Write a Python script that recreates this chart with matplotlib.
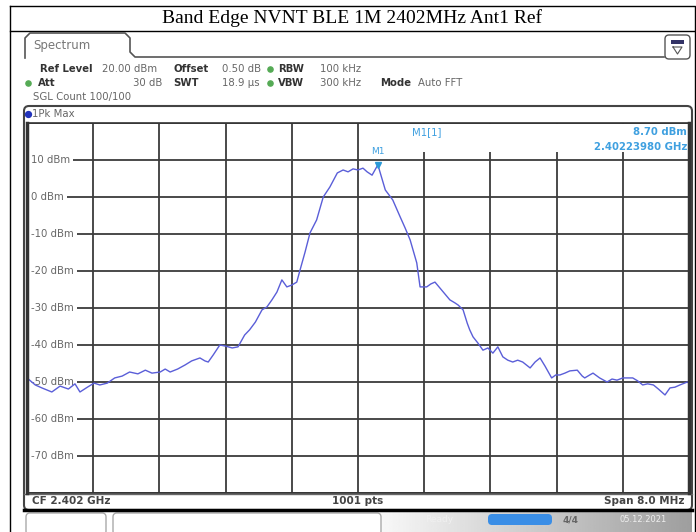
import numpy as np
import matplotlib.pyplot as plt
from matplotlib.patches import FancyBboxPatch, Rectangle

# Trace
freq_ghz = [2.39800, 2.39810, 2.39818, 2.39830, 2.39840, 2.39850, 2.39858, 2.39864,
            2.39873, 2.39881, 2.39888, 2.39897, 2.39906, 2.39915, 2.39924, 2.39934,
            2.39943, 2.39951, 2.39961, 2.39967, 2.39973, 2.39982, 2.39991, 2.39999,
            2.40009, 2.40015, 2.40019, 2.40025, 2.40033, 2.40040, 2.40048, 2.40055,
            2.40063, 2.40069, 2.40076, 2.40084, 2.40090, 2.40096, 2.40102, 2.40108,
            2.40114, 2.40120, 2.40126, 2.40130, 2.40136, 2.40142, 2.40150, 2.40158,
            2.40166, 2.40175, 2.40182, 2.40188, 2.40194, 2.40200, 2.40206, 2.40211,
            2.40217, 2.40224, 2.40233, 2.40242, 2.40251, 2.40257, 2.40263, 2.40271,
            2.40275, 2.40283, 2.40288, 2.40293, 2.40299, 2.40305, 2.40311, 2.40317,
            2.40321, 2.40327, 2.40332, 2.40335, 2.40339, 2.40345, 2.40351, 2.40357,
            2.40363, 2.40369, 2.40375, 2.40381, 2.40387, 2.40393, 2.40399, 2.40408,
            2.40414, 2.40420, 2.40426, 2.40434, 2.40439, 2.40444, 2.40450, 2.40456,
            2.40465, 2.40471, 2.40474, 2.40480, 2.40484, 2.40492, 2.40501, 2.40507,
            2.40513, 2.40520, 2.40526, 2.40532, 2.40538, 2.40544, 2.40550, 2.40557,
            2.40563, 2.40571, 2.40577, 2.40583, 2.40589, 2.40598, 2.40600]
level_dbm = [-48.9, -50.8, -51.6, -52.7, -51.1, -51.9, -50.5, -52.7,
             -51.4, -50.3, -50.8, -50.3, -48.9, -48.4, -47.3, -47.8,
             -46.8, -47.6, -47.3, -46.5, -47.3, -46.5, -45.4, -44.3,
             -43.5, -44.3, -44.6, -42.7, -40.0, -40.3, -40.8, -40.5,
             -37.3, -35.9, -33.8, -30.5, -29.7, -27.8, -25.7, -22.4,
             -24.3, -23.8, -23.0, -19.7, -14.9, -9.7, -6.2, 0.0,
             2.7, 6.5, 7.3, 6.8, 7.6, 7.3, 7.8, 6.8,
             5.9, 8.7, 1.9, -0.8, -5.4, -8.4, -11.6, -17.8,
             -24.3, -24.3, -23.5, -23.0, -24.6, -26.2, -27.8, -28.6,
             -29.2, -30.5, -34.1, -35.9, -37.8, -39.5, -41.4, -40.8,
             -42.2, -40.5, -43.2, -44.1, -44.6, -44.1, -44.6, -46.2,
             -44.6, -43.5, -45.7, -48.9, -48.1, -48.1, -47.6, -47.0,
             -46.8, -48.4, -48.9, -48.1, -47.6, -48.9, -50.0, -49.2,
             -49.5, -48.9, -48.9, -48.9, -49.7, -50.8, -50.5, -50.8,
             -51.9, -53.5, -51.6, -51.4, -50.8, -50.0, -50.3]

marker_freq = 2.40223980
marker_level = 8.70
y_ticks = [10, 0, -10, -20, -30, -40, -50, -60, -70]
title = 'Band Edge NVNT BLE 1M 2402MHz Ant1 Ref'

W, H = 696, 532
fig = plt.figure(figsize=(W / 100, H / 100), dpi=100)
fig.patch.set_facecolor('white')

# pixel-coordinate layer for the instrument frame
bg = fig.add_axes([0, 0, 1, 1], zorder=0)
bg.set_xlim(0, W)
bg.set_ylim(H, 0)
bg.axis('off')

# title box
bg.plot([10, 695, 695], [6, 6, H], color='black', lw=1)
bg.plot([10, 10], [6, H], color='black', lw=1)
bg.plot([10, 695], [31, 31], color='black', lw=1)
fig.text(352 / W, 1 - 18 / H, title, ha='center', va='center',
         fontsize=14, family='Liberation Serif')

# Spectrum tab and top-right icon
bg.plot([25, 25, 30, 125, 130, 130, 135, 664], [58, 38, 33, 33, 38, 52, 57, 57],
        color='#555555', lw=1.2)
bg.text(33, 46, 'Spectrum', fontsize=8.5, color='#777777', va='center')
bg.add_patch(FancyBboxPatch((665, 35), 25, 24, boxstyle='round,pad=0,rounding_size=4',
                            fc='white', ec='#555555', lw=1))
bg.add_patch(Rectangle((671, 40), 13, 4, fc='#333366', ec='none'))
bg.plot([673, 682, 677.5, 673], [47, 47, 54, 47], color='#555555', lw=0.8)

# setting lines
hdr = dict(fontsize=7.3, va='center')
bg.text(40, 69, 'Ref Level', fontweight='bold', color='#333333', **hdr)
bg.text(102, 69, '20.00 dBm', color='#666666', **hdr)
bg.text(173, 69, 'Offset', fontweight='bold', color='#333333', **hdr)
bg.text(222, 69, '0.50 dB', color='#666666', **hdr)
bg.text(278, 69, 'RBW', fontweight='bold', color='#333333', **hdr)
bg.text(320, 69, '100 kHz', color='#666666', **hdr)
bg.text(38, 83, 'Att', fontweight='bold', color='#333333', **hdr)
bg.text(162, 83, '30 dB', color='#666666', ha='right', fontsize=7.3, va='center')
bg.text(173, 83, 'SWT', fontweight='bold', color='#333333', **hdr)
bg.text(222, 83, '18.9 µs', color='#666666', **hdr)
bg.text(278, 83, 'VBW', fontweight='bold', color='#333333', **hdr)
bg.text(320, 83, '300 kHz', color='#666666', **hdr)
bg.text(380, 83, 'Mode', fontweight='bold', color='#333333', **hdr)
bg.text(418, 83, 'Auto FFT', color='#666666', **hdr)
bg.text(33, 97, 'SGL Count 100/100', color='#666666', **hdr)
bg.scatter([270, 270, 28], [69, 83, 83], s=14, color='#55aa55', zorder=3)

# diagram frame
bg.add_patch(FancyBboxPatch((24, 106), 668, 404, boxstyle='round,pad=0,rounding_size=5',
                            fc='white', ec='#444444', lw=1.5))
bg.scatter([28], [114], s=18, color='#2233bb', zorder=3)
bg.text(32, 114, '1Pk Max', color='#666666', **hdr)

# status line under the grid
bg.plot([24, 692], [494, 494], color='#666666', lw=1)
st = dict(fontsize=7.5, fontweight='bold', color='#444444', va='center')
bg.text(32, 501.5, 'CF 2.402 GHz', **st)
bg.text(358, 501.5, '1001 pts', ha='center', **st)
bg.text(685, 501.5, 'Span 8.0 MHz', ha='right', **st)
bg.plot([24, 692], [510, 510], color='black', lw=2.5)

# bottom bar
grad = np.linspace(0.97, 0.62, 200)[None, :]
bg.imshow(grad, cmap='gray', vmin=0, vmax=1, aspect='auto',
          extent=(380, 692, 532, 512), zorder=0)
bg.add_patch(FancyBboxPatch((26, 513), 80, 22, boxstyle='round,pad=0,rounding_size=4',
                            fc='white', ec='#aaaaaa', lw=1))
bg.add_patch(FancyBboxPatch((113, 513), 268, 22, boxstyle='round,pad=0,rounding_size=4',
                            fc='white', ec='#aaaaaa', lw=1))
bg.add_patch(FancyBboxPatch((488, 514), 64, 11, boxstyle='round,pad=0,rounding_size=4',
                            fc='#3a8ee6', ec='none'))
bg.text(563, 520, '4/4', fontsize=6.5, color='#666666', va='center', fontweight='bold')
bg.text(425, 520, 'Ready', fontsize=6.5, color='#f0f0f0', va='center')
bg.text(620, 519, '05.12.2021', fontsize=6, color='#eeeeee', va='center')

# measurement grid
ax = fig.add_axes([27 / W, 1 - 493 / H, 662 / W, 370 / H], zorder=1)
ax.set_facecolor('white')
ax.set_xlim(2.398, 2.406)
ax.set_ylim(-80, 20)
ax.set_xticks(np.linspace(2.398, 2.406, 11))
ax.set_yticks(np.arange(-80, 21, 10))
ax.grid(True, color='#3c3c3c', lw=1.3)
ax.tick_params(length=0, labelbottom=False, labelleft=False)
for side, lw in [('left', 2.5), ('right', 2.5), ('top', 1.2), ('bottom', 1.2)]:
    ax.spines[side].set_linewidth(lw)
    ax.spines[side].set_color('#333333')
    ax.spines[side].set_zorder(5)
ax.plot(freq_ghz, level_dbm, color='#5a5ed8', lw=1, zorder=3.5)

# marker readout area over the grid
ax.add_patch(Rectangle((0.555, 0.922), 0.44, 0.076, transform=ax.transAxes,
                       fc='white', ec='none', zorder=3))
ax.plot([marker_freq], [marker_level], marker='v', color='#2a9ad8', ms=5, zorder=4)
ax.annotate('M1', (marker_freq, marker_level), xytext=(0, 6), textcoords='offset points',
            ha='center', va='bottom', fontsize=6.5, color='#3fa0e0', zorder=4)
ax.text(0.582, 0.975, 'M1[1]', transform=ax.transAxes, fontsize=7.3, color='#3fa0e0',
        va='center', zorder=4)
ax.text(0.997, 0.975, '%.2f dBm' % marker_level, transform=ax.transAxes, fontsize=7.3,
        color='#3fa0e0', ha='right', va='center', fontweight='bold', zorder=4)
ax.text(0.997, 0.935, '%.8f GHz' % marker_freq, transform=ax.transAxes, fontsize=7.3,
        color='#3fa0e0', ha='right', va='center', fontweight='bold', zorder=4)

# level labels sit on the grid lines, covering them from the left edge
for t in y_ticks:
    ax.text(2.398 + 0.00005, t, '%d dBm' % t, fontsize=7.3, color='#666666', va='center',
            bbox=dict(fc='white', ec='none', pad=2.2), zorder=3)

fig.savefig('out.png', dpi=100)
